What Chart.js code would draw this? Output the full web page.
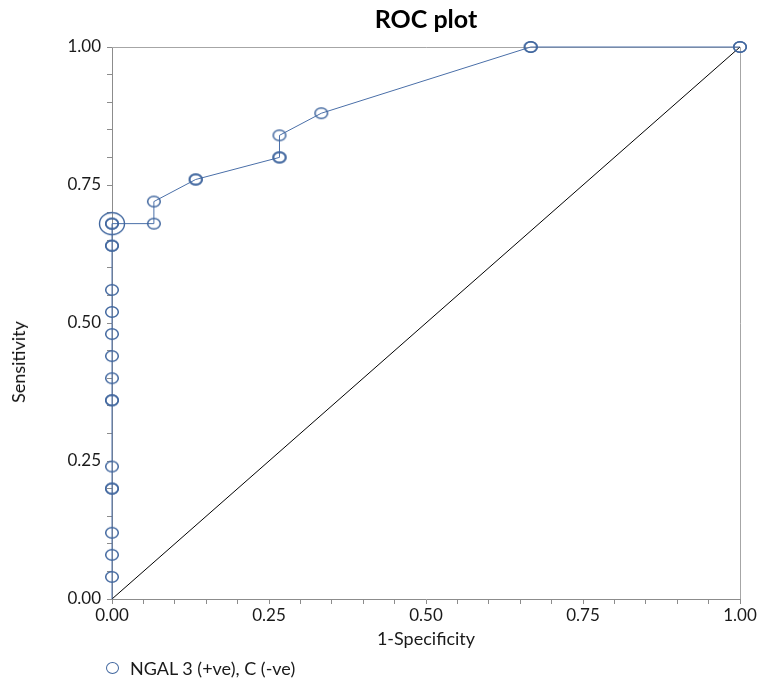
<!DOCTYPE html>
<html>
<head>
<meta charset="utf-8">
<script src="https://cdn.jsdelivr.net/npm/chart.js@4"></script>
<style>
  html, body { margin: 0; padding: 0; background: #fff; }
  #wrap { position: relative; width: 759px; height: 683px; font-family: Lato, "Open Sans", sans-serif; }
  #chart { position: absolute; left: 0; top: 0; }
  .title { position: absolute; left: 276px; width: 300px; top: 3px; text-align: center; font-size: 25px; font-weight: bold; color: #000; }
  .ytitle { position: absolute; left: 18px; top: 362px; transform: translate(-50%, -50%) rotate(-90deg); font-size: 18px; color: #111; white-space: nowrap; }
  .legend { position: absolute; left: 106px; top: 657px; font-size: 18px; color: #1a1a1a; display: flex; align-items: center; }
  .legend span.mark { display: inline-block; width: 11px; height: 10px; border: 1px solid #41679f; border-radius: 50%; margin-right: 11px; }
</style>
</head>
<body>
<div id="wrap">
  <canvas id="chart" width="759" height="683"></canvas>
  <div class="title">ROC plot</div>
  <div class="ytitle">Sensitivity</div>
  <div class="legend"><span class="mark"></span>NGAL 3 (+ve), C (-ve)</div>
</div>
<script>
// ROC points (1-specificity, sensitivity); repeated pairs are tied thresholds
const fpr  = [0, 0,    0,    0,    0,    0,    0,    0,    0,    0,    0,    0,    0,    0,    0,    0,    0,    0,    0.0667, 0.0667, 0.1333, 0.1333, 0.2667, 0.2667, 0.2667, 0.3333, 0.6667, 0.6667, 1, 1];
const tpr  = [0, 0.04, 0.08, 0.12, 0.20, 0.20, 0.24, 0.36, 0.36, 0.40, 0.44, 0.48, 0.52, 0.56, 0.64, 0.64, 0.68, 0.68, 0.68,   0.72,   0.76,   0.76,   0.80,   0.80,   0.84,   0.88,   1.00,   1.00,   1, 1];
const optimalPoint = { x: 0, y: 0.68 };
const chanceLine = [{ x: 0, y: 0 }, { x: 1, y: 1 }];
const majorTicks = [0, 0.25, 0.5, 0.75, 1];

const blue = '#41679f';
const rocPoints = fpr.map((x, i) => ({ x: x, y: tpr[i] }));

// Excel draws its circle markers slightly wider than tall
function ellipseMarker(rx, ry, lw) {
    const c = document.createElement('canvas');
    c.width = Math.ceil(rx * 2 + lw * 2 + 2);
    c.height = Math.ceil(ry * 2 + lw * 2 + 2);
    const g = c.getContext('2d');
    g.strokeStyle = blue;
    g.lineWidth = lw;
    g.beginPath();
    g.ellipse(c.width / 2, c.height / 2, rx, ry, 0, 0, Math.PI * 2);
    g.stroke();
    return c;
}
const smallMark = ellipseMarker(6.3, 5.3, 1.5);
const bigMark = ellipseMarker(12.5, 11, 1.4);

const tickFont = { family: 'Lato', size: 17 };
const fiveHundredths = (scale) => {
    const t = [];
    for (let i = 0; i <= 20; i++) t.push({ value: i / 20 });
    scale.ticks = t;
};
const majorLabel = (v) => majorTicks.some(m => Math.abs(m - v) < 1e-9) ? Number(v).toFixed(2) : '';

const ctx = document.getElementById('chart');
new Chart(ctx, {
    type: 'scatter',
    data: {
        datasets: [
            {
                label: 'NGAL 3 (+ve), C (-ve)',
                data: rocPoints,
                showLine: true,
                borderColor: '#4a6fa8',
                borderWidth: 1,
                backgroundColor: 'rgba(0,0,0,0)',
                // first point is the origin: line only, no marker
                pointStyle: rocPoints.map((p, i) => i === 0 ? false : smallMark),
                pointRadius: 6,
                clip: false,
                order: 1
            },
            {
                label: 'optimal',
                data: [optimalPoint],
                showLine: false,
                pointStyle: bigMark,
                pointRadius: 12,
                clip: false,
                order: 0
            },
            {
                label: 'chance',
                data: chanceLine,
                showLine: true,
                borderColor: '#000',
                borderWidth: 1,
                pointRadius: 0,
                clip: false,
                order: 2
            }
        ]
    },
    options: {
        responsive: false,
        animation: false,
        layout: { padding: { left: 0, right: 19, top: 47, bottom: 33 } },
        plugins: {
            legend: { display: false },
            title: { display: false },
            tooltip: { enabled: false }
        },
        scales: {
            x: {
                type: 'linear',
                min: 0,
                max: 1,
                afterFit(scale) { scale.height = 51; },
                afterBuildTicks: fiveHundredths,
                border: { display: true, color: '#8c8c8c', width: 1 },
                grid: {
                    drawOnChartArea: false,
                    drawTicks: true,
                    tickLength: 5,
                    color: '#8c8c8c'
                },
                ticks: {
                    autoSkip: false,
                    maxRotation: 0,
                    padding: 1,
                    color: '#1a1a1a',
                    font: tickFont,
                    callback: majorLabel
                },
                title: {
                    display: true,
                    text: '1-Specificity',
                    color: '#1a1a1a',
                    font: { family: 'Lato', size: 18 },
                    padding: { top: 0, bottom: 0 }
                }
            },
            y: {
                type: 'linear',
                min: 0,
                max: 1,
                afterFit(scale) { scale.width = 112; },
                afterBuildTicks: fiveHundredths,
                border: { display: true, color: '#8c8c8c', width: 1 },
                grid: {
                    drawOnChartArea: false,
                    drawTicks: true,
                    tickLength: 5,
                    color: '#8c8c8c'
                },
                ticks: {
                    autoSkip: false,
                    padding: 6,
                    color: '#1a1a1a',
                    font: tickFont,
                    callback: majorLabel
                }
            }
        }
    },
    plugins: [{
        // top and right edges of the plot box
        id: 'frame',
        beforeDatasetsDraw(chart) {
            const a = chart.chartArea;
            const c = chart.ctx;
            c.save();
            c.strokeStyle = '#a6a6a6';
            c.lineWidth = 1;
            c.beginPath();
            c.moveTo(a.left, a.top + 0.5);
            c.lineTo(a.right + 0.5, a.top + 0.5);
            c.lineTo(a.right + 0.5, a.bottom);
            c.stroke();
            c.restore();
        }
    }]
});
</script>
</body>
</html>
